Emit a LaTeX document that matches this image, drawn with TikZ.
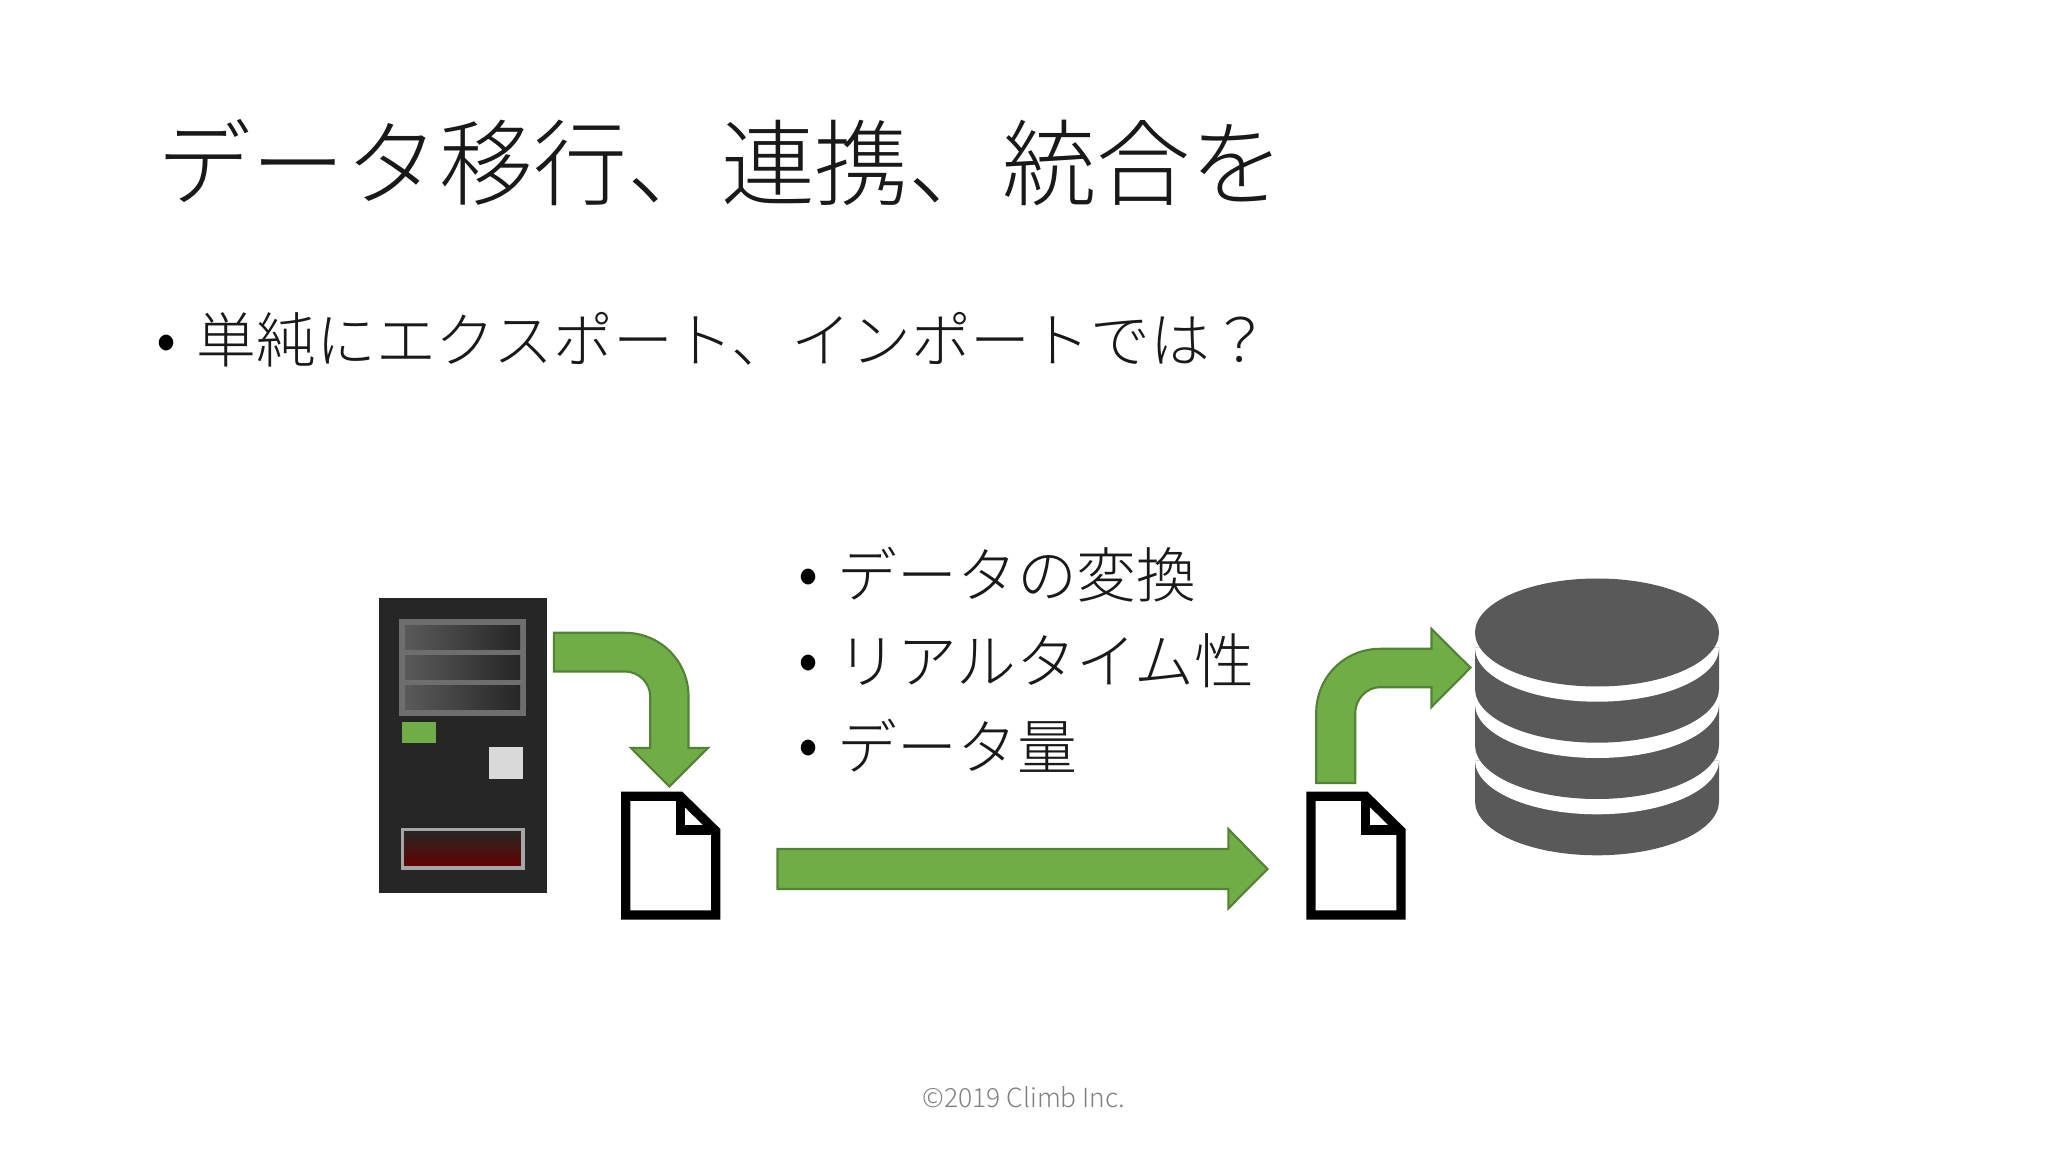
\documentclass[tikz,border=0pt]{standalone}
\usepackage{fontspec}
\setmainfont{Noto Sans CJK JP Light}
\definecolor{arrowgreen}{HTML}{70AD47}
\definecolor{arrowedge}{HTML}{548235}
\definecolor{towerblack}{HTML}{262626}
\definecolor{dbgray}{HTML}{595959}
\definecolor{panelgray}{HTML}{6E6E6E}
\definecolor{slotgray}{HTML}{5A5A5A}
\tikzset{
  blockarrow/.style={fill=arrowgreen,draw=arrowedge,line width=0.6pt},
  slotbar/.style={left color=slotgray,right color=towerblack},
  doctext/.style={anchor=west,inner sep=0pt,text=black!90},
  bulletmark/.style={anchor=center,inner sep=0pt,text=black}
}

\begin{document}
\begin{tikzpicture}[x=0.01cm,y=-0.01cm]
\useasboundingbox (0,0) rectangle (2048,1152);

% title and first bullet
\node (title) [doctext] at (157,163) {\fontsize{26.7}{30}\selectfont データ移行、連携、統合を};
\node (bulletmain) [bulletmark] at (167,348.5) {\fontsize{18}{20}\selectfont •};
\node (question) [doctext] at (196,340) {\fontsize{17}{20}\selectfont 単純にエクスポート、インポートでは？};

% list in the middle
\node (bulletone) [bulletmark] at (809,582.5) {\fontsize{18}{20}\selectfont •};
\node (convert) [doctext] at (837,575) {\fontsize{17}{20}\selectfont データの変換};
\node (bullettwo) [bulletmark] at (809,668.5) {\fontsize{18}{20}\selectfont •};
\node (realtime) [doctext] at (837,661) {\fontsize{17}{20}\selectfont リアルタイム性};
\node (bulletthree) [bulletmark] at (809,753.5) {\fontsize{18}{20}\selectfont •};
\node (volume) [doctext] at (837,746) {\fontsize{17}{20}\selectfont データ量};

% footer
\node (footer) [anchor=center,inner sep=0pt,text=black!50] at (1024,1097) {\fontsize{7.5}{9}\selectfont ©2019 Climb Inc.};

% server tower
\fill [towerblack] (379.3,597.7) rectangle (546.7,892.7);
\fill [panelgray] (399,618.7) rectangle (526.3,715.7);
\fill [slotbar] (405,625) rectangle (520,649);
\fill [slotbar] (405,655.3) rectangle (520,679);
\fill [slotbar] (405,685.7) rectangle (520,709.3);
\fill [arrowgreen] (401.7,722) rectangle (436.3,743.3);
\fill [black!15] (488.7,747.3) rectangle (523.3,778.7);
\draw [black!35,line width=1pt,top color=towerblack,bottom color=red!40!black] (402.5,829.7) rectangle (523,868);

% files
\foreach \dx in {0,685.3}
{
\begin{scope}[shift={(\dx,0)}]
\draw [black,fill=white,line width=2.65pt,miter limit=10] (625.7,796.3)--(680.3,796.3)--(715.7,831)--(715.7,915)--(625.7,915)--cycle;
\draw [black,line width=2.65pt] (680.3,796.3)--(680.3,830)--(715.7,830);
\end{scope}
}

% arrow server to file
\draw [blockarrow] (553.8,632.8)--(625,632.8) .. controls (660,632.8) and (688.5,661) .. (688.5,696.3)--(688.5,748)--(708,748)--(669.3,786.5)--(631,748)--(650.2,748)--(650.2,696.3) .. controls (650.2,682.7) and (638.6,671.5) .. (625,671.5)--(553.8,671.5)--cycle;

% long arrow
\draw [blockarrow] (777.5,849)--(1228.3,849)--(1228.3,829)--(1267.5,869)--(1228.3,908.5)--(1228.3,889)--(777.5,889)--cycle;

% arrow file to database
\draw [blockarrow] (1316.2,783)--(1316.2,713) .. controls (1316.2,677.3) and (1344.4,648.8) .. (1380,648.8)--(1431.5,648.8)--(1431.5,629)--(1470.5,667.7)--(1431.5,707)--(1431.5,687.2)--(1380,687.2) .. controls (1366.4,687.2) and (1355.2,699.4) .. (1355.2,713)--(1355.2,783)--cycle;

% database, painted from the bottom up
\foreach \c in {801.3,745,688.7}
{
\fill [dbgray] (1475,\c-41)--(1475,\c) arc [start angle=180,end angle=0,x radius=122,y radius=54]--(1719,\c-41)--cycle;
\fill [white] (1475,\c-41) arc [start angle=180,end angle=0,x radius=122,y radius=54]--cycle;
}
\fill [dbgray] (1597,632.5) ellipse [x radius=122,y radius=54];

\end{tikzpicture}
\end{document}
